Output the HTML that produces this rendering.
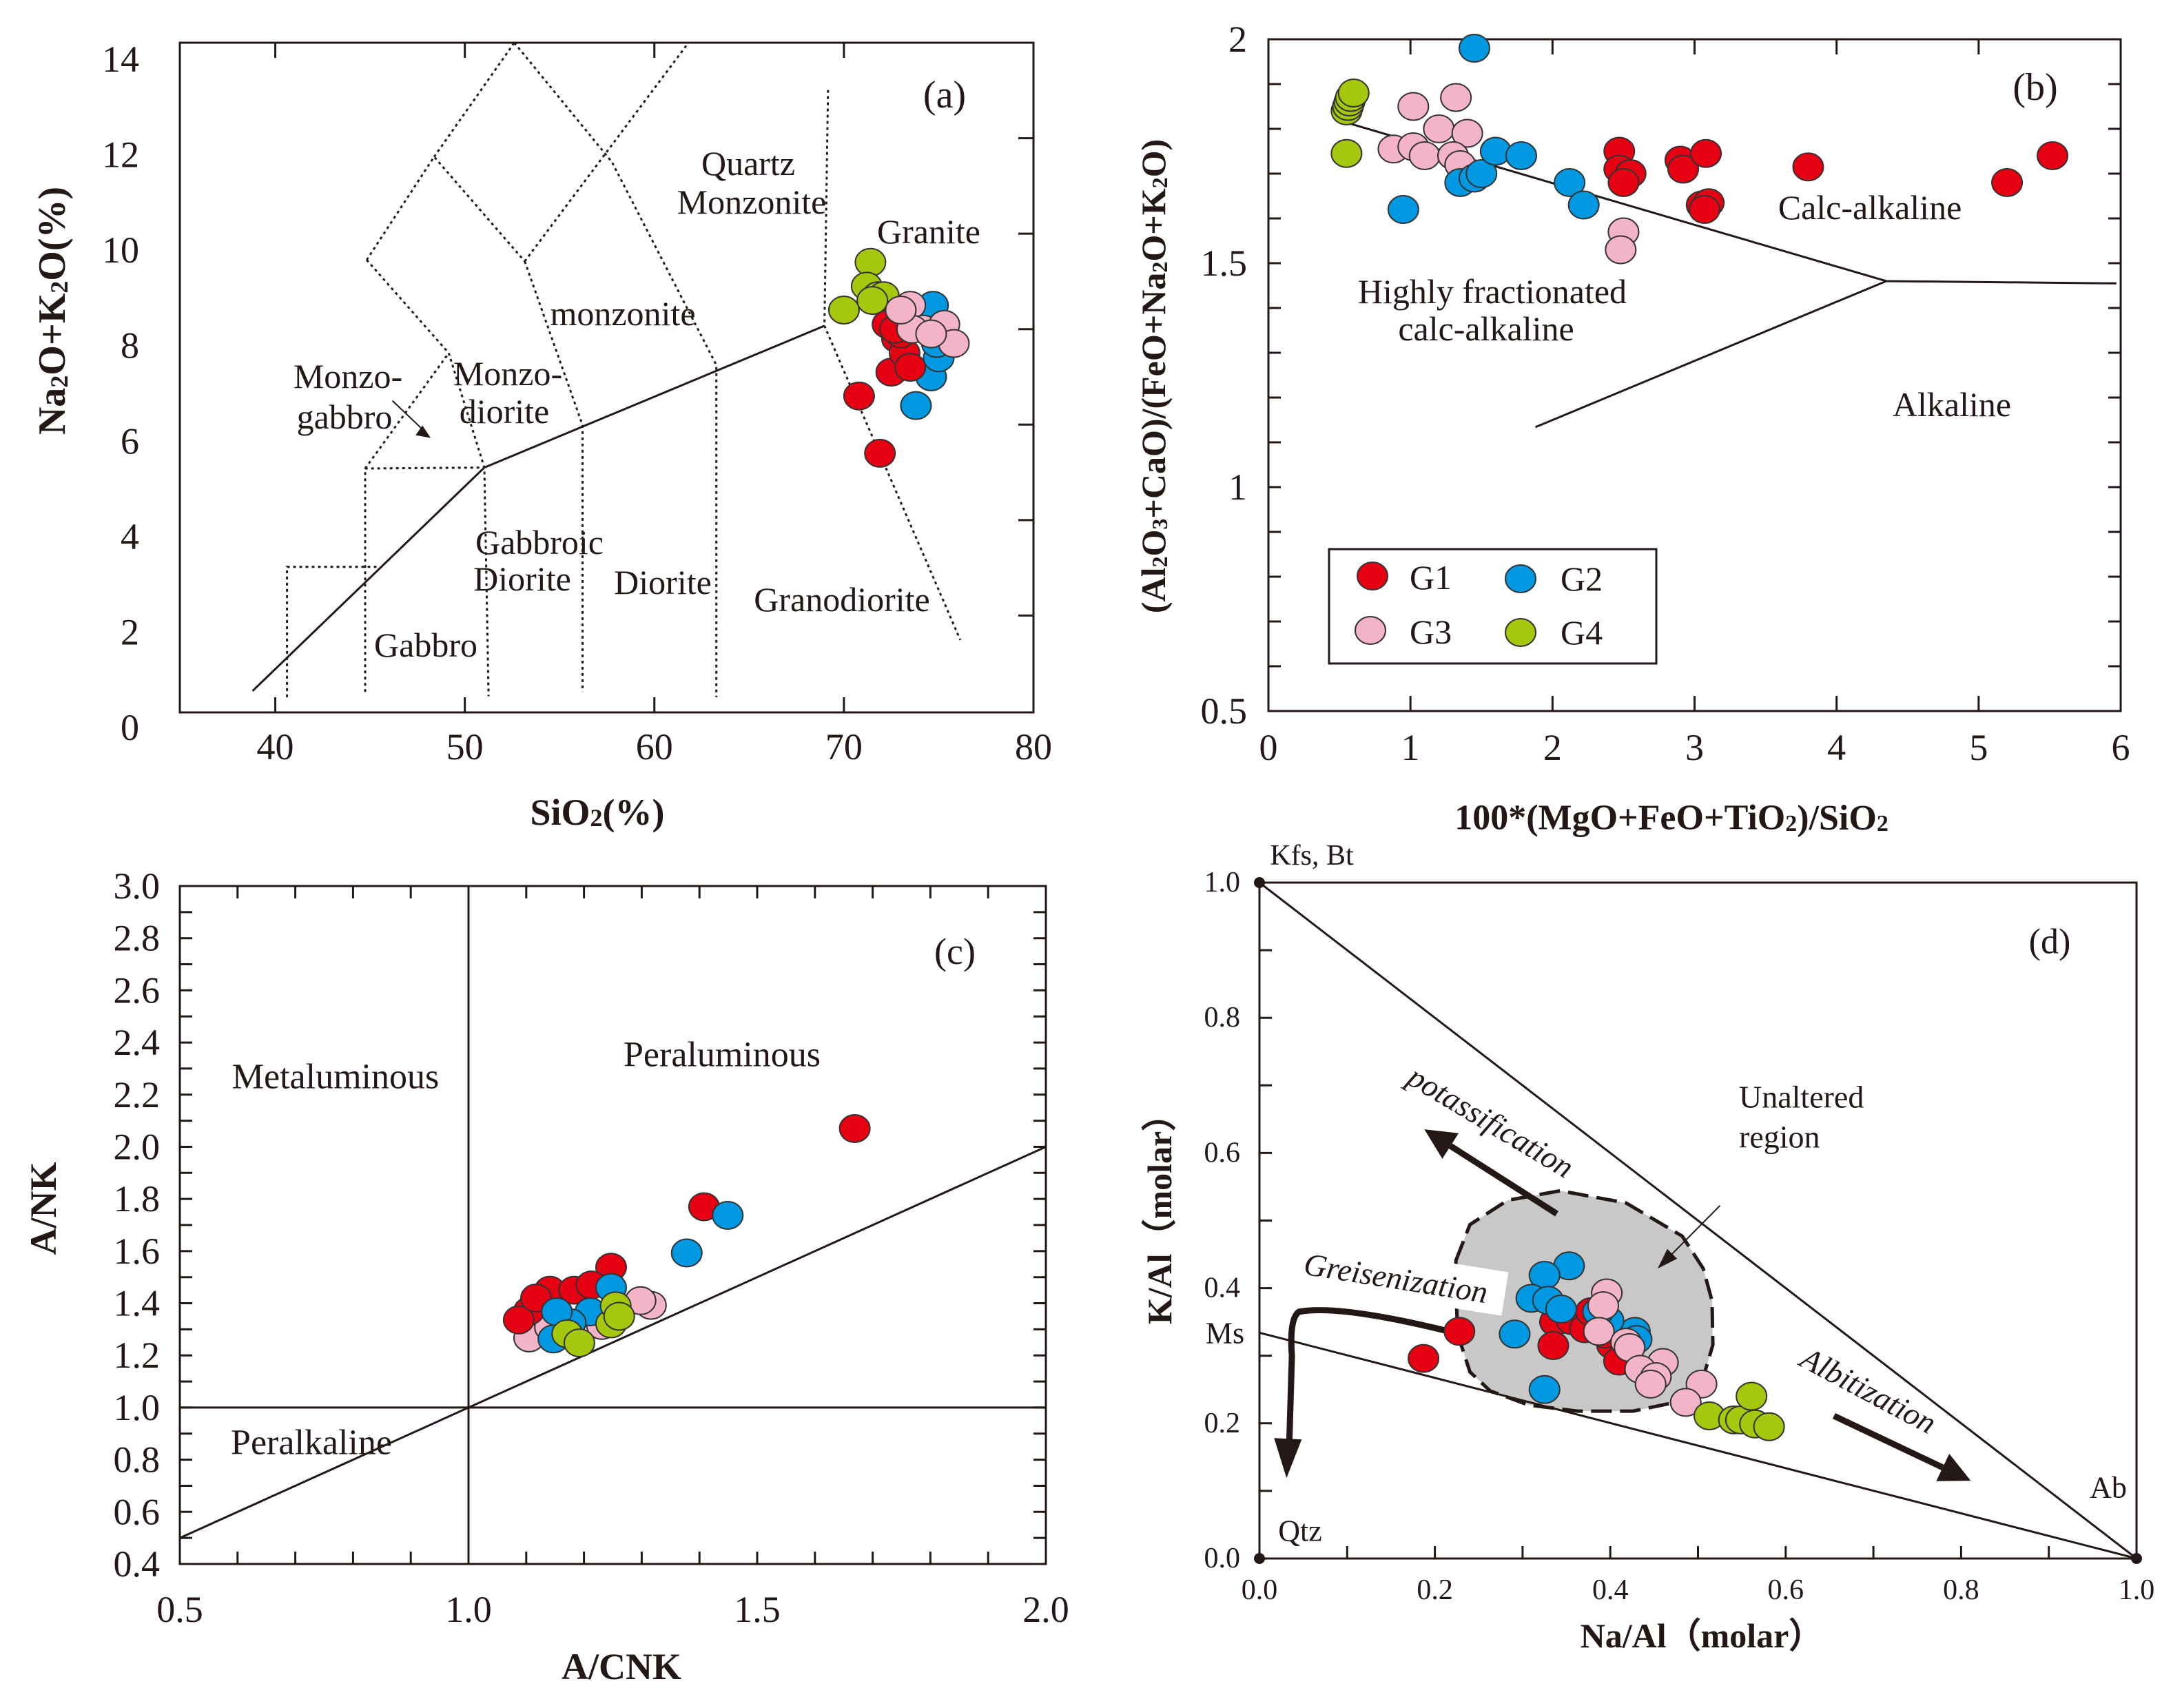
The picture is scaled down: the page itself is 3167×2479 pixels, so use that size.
<!DOCTYPE html>
<html><head><meta charset="utf-8"><title>Geochemical discrimination diagrams</title>
<style>
html,body{margin:0;padding:0;background:#fff;}
svg{display:block;font-family:"Liberation Serif","DejaVu Serif",serif;}
text{font-family:"Liberation Serif","DejaVu Serif",serif;}
.t{font-size:50px;fill:#231815;}
.tk{font-size:54px;fill:#231815;}
.tkd{font-size:42px;fill:#231815;}
.ti{font-weight:bold;fill:#231815;}
</style></head>
<body>
<svg id="fig" width="3167" height="2479" viewBox="0 0 3167 2479" xmlns="http://www.w3.org/2000/svg">
<rect x="0" y="0" width="3167" height="2479" fill="#fff"/>
<g id="pa"></g>
<g id="pb"></g>
<g id="pc"></g>
<g id="pd"></g>

<!-- Panel a texts -->
<g text-anchor="middle" dominant-baseline="central" class="t">
<text x="1371" y="138" font-size="56">(a)</text>
<text x="1086" y="237">Quartz</text>
<text x="1091" y="293">Monzonite</text>
<text x="1348" y="336">Granite</text>
<text x="904" y="455">monzonite</text>
<text x="505" y="546">Monzo-</text>
<text x="500" y="605">gabbro</text>
<text x="737" y="542">Monzo-</text>
<text x="732" y="597">diorite</text>
<text x="783" y="787">Gabbroic</text>
<text x="758" y="840">Diorite</text>
<text x="962" y="845">Diorite</text>
<text x="1222" y="870">Granodiorite</text>
<text x="618" y="936">Gabbro</text>
</g>
<text class="ti" x="867" y="1179" font-size="54" text-anchor="middle" dominant-baseline="central">SiO<tspan font-size="36" dy="8">2</tspan><tspan dy="-8">(%)</tspan></text>
<text class="ti" transform="translate(76,451) rotate(-90)" font-size="56" text-anchor="middle" dominant-baseline="central">Na<tspan font-size="36" dy="10">2</tspan><tspan dy="-10">O+K</tspan><tspan font-size="36" dy="10">2</tspan><tspan dy="-10">O(%)</tspan></text>

<!-- Panel b texts -->
<g text-anchor="middle" dominant-baseline="central" class="t">
<text x="2954" y="127" font-size="56">(b)</text>
<text x="2714" y="301">Calc-alkaline</text>
<text x="2166" y="423">Highly fractionated</text>
<text x="2157" y="477">calc-alkaline</text>
<text x="2833" y="587">Alkaline</text>
</g>
<text class="ti" x="2426" y="1187" font-size="52" text-anchor="middle" dominant-baseline="central">100*(MgO+FeO+TiO<tspan font-size="34" dy="8">2</tspan><tspan dy="-8">)/SiO</tspan><tspan font-size="34" dy="8">2</tspan></text>
<text class="ti" transform="translate(1674,546) rotate(-90)" font-size="50" text-anchor="middle" dominant-baseline="central">(Al<tspan font-size="32" dy="9">2</tspan><tspan dy="-9">O</tspan><tspan font-size="32" dy="9">3</tspan><tspan dy="-9">+CaO)/(FeO+Na</tspan><tspan font-size="32" dy="9">2</tspan><tspan dy="-9">O+K</tspan><tspan font-size="32" dy="9">2</tspan><tspan dy="-9">O)</tspan></text>
<g>
<rect x="1929" y="797" width="475" height="166" fill="#fff" stroke="#231815" stroke-width="3"/>
<ellipse cx="1992" cy="836" rx="22" ry="20" fill="#e60012" stroke="#333" stroke-width="2"/>
<text x="2046" y="838" class="t" dominant-baseline="central">G1</text>
<ellipse cx="2207" cy="840" rx="22" ry="20" fill="#0098e0" stroke="#333" stroke-width="2"/>
<text x="2265" y="840" class="t" dominant-baseline="central">G2</text>
<ellipse cx="1989" cy="915" rx="22" ry="20" fill="#f4b4c8" stroke="#333" stroke-width="2"/>
<text x="2046" y="917" class="t" dominant-baseline="central">G3</text>
<ellipse cx="2207" cy="918" rx="22" ry="20" fill="#a5c80e" stroke="#333" stroke-width="2"/>
<text x="2265" y="918" class="t" dominant-baseline="central">G4</text>
</g>

<!-- Panel c texts -->
<g text-anchor="middle" dominant-baseline="central" class="t">
<text x="1386" y="1381" font-size="54">(c)</text>
<text x="1048" y="1531" font-size="52">Peraluminous</text>
<text x="487" y="1563" font-size="52">Metaluminous</text>
<text x="452" y="2094" font-size="52">Peralkaline</text>
</g>
<text class="ti" x="902" y="2419" font-size="54" text-anchor="middle" dominant-baseline="central">A/CNK</text>
<text class="ti" transform="translate(63,1754) rotate(-90)" font-size="54" text-anchor="middle" dominant-baseline="central">A/NK</text>

<!-- Panel d texts -->
<g dominant-baseline="central" class="t">
<text x="1904" y="1242" font-size="42" text-anchor="middle">Kfs, Bt</text>
<text x="2975" y="1367" font-size="52" text-anchor="middle">(d)</text>
<text x="2524" y="1592" font-size="46">Unaltered</text>
<text x="2524" y="1650" font-size="46">region</text>
<text x="1778" y="1935" font-size="44" text-anchor="middle">Ms</text>
<text x="1887" y="2222" font-size="44" text-anchor="middle">Qtz</text>
<text x="3060" y="2159" font-size="44" text-anchor="middle">Ab</text>
<text transform="translate(2164,1628) rotate(31)" font-size="46" font-style="italic" text-anchor="middle">potassification</text>
<g transform="translate(2026,1855) rotate(9)">
<rect x="-160" y="-34" width="320" height="64" fill="#fff"/>
<text x="0" y="0" font-size="46" font-style="italic" text-anchor="middle">Greisenization</text>
</g>
<text transform="translate(2712,2018) rotate(28)" font-size="46" font-style="italic" text-anchor="middle">Albitization</text>
</g>
<text class="ti" x="2470" y="2374" font-size="50" text-anchor="middle" dominant-baseline="central">Na/Al（molar）</text>
<text class="ti" transform="translate(1683,1757) rotate(-90)" font-size="50" text-anchor="middle" dominant-baseline="central">K/Al（molar）</text>
</svg>

<script>
// ---------- data ----------
// Panel a: SiO2 vs Na2O+K2O
const aG1 = [[70.8,6.6],[71.9,5.4],[72.5,7.1],[72.3,8.1],[72.8,7.8],[73.2,7.5],[73.5,7.2],[73.0,7.9],[72.7,8.0]];
const aG2 = [[73.8,6.4],[74.6,7.0],[75.0,7.4],[74.7,8.5],[75.2,7.9],[74.9,7.7]];
const aG3 = [[73.5,8.5],[74.2,8.0],[75.3,8.1],[75.8,7.7],[73.6,8.0],[74.6,7.9],[73.0,8.4]];
const aG4 = [[71.4,9.4],[70.0,8.4],[71.2,8.9],[71.8,8.7],[72.1,8.7],[71.5,8.6]];
const aXTicks = [40,50,60,70,80];
const aYTicks = [0,2,4,6,8,10,12,14];
const aSolid = [[38.8,0.42],[51.03,5.10],[68.97,8.07]];
const aDotted = [
 [[40.62,0.29],[40.62,3.02],[45.44,3.02]],
 [[44.74,0.40],[44.74,5.08],[51.03,5.10]],
 [[44.74,5.08],[49.15,7.50]],
 [[49.15,7.50],[51.03,5.10],[51.25,0.31]],
 [[44.82,9.45],[49.15,7.50]],
 [[44.82,9.45],[48.38,11.61],[53.16,9.42]],
 [[48.38,11.61],[52.61,14.0]],
 [[53.16,9.42],[61.80,14.0]],
 [[53.16,9.42],[56.21,5.99],[56.21,0.40]],
 [[52.61,14.0],[57.76,11.5],[63.27,7.25],[63.27,0.29]],
 [[69.16,13.01],[68.97,8.07],[76.14,1.49]]
];
// Panel b
const bG1 = [[2.47,1.75],[2.47,1.71],[2.55,1.70],[2.5,1.68],[2.9,1.73],[2.92,1.71],[3.08,1.745],[3.05,1.63],[3.1,1.635],[3.07,1.62],[3.8,1.715],[5.2,1.68],[5.52,1.74]];
const bG2 = [[1.45,1.98],[0.95,1.62],[1.35,1.68],[1.45,1.69],[1.5,1.70],[1.6,1.75],[1.78,1.74],[2.12,1.68],[2.22,1.63]];
const bG3 = [[1.02,1.85],[1.32,1.87],[1.2,1.80],[1.4,1.79],[0.88,1.755],[1.02,1.76],[1.1,1.74],[1.3,1.74],[1.35,1.72],[2.5,1.57],[2.48,1.53]];
const bG4 = [[0.55,1.84],[0.56,1.85],[0.57,1.86],[0.58,1.87],[0.6,1.88],[0.55,1.745]];
const bXTicks = [0,1,2,3,4,5,6];
const bYTicks = [0.5,1,1.5,2];
const bLines = [[[0.56,1.813],[4.35,1.46],[5.97,1.455]],[[1.88,1.134],[4.35,1.46]]];
// Panel c
const cG1 = [[1.669,2.07],[1.408,1.77],[1.247,1.538],[1.105,1.371],[1.147,1.40],[1.141,1.45],[1.183,1.45],[1.213,1.47],[1.087,1.336],[1.117,1.42]];
const cG2 = [[1.449,1.737],[1.378,1.593],[1.247,1.46],[1.211,1.367],[1.147,1.263],[1.177,1.325],[1.153,1.367]];
const cG3 = [[1.105,1.267],[1.316,1.392],[1.298,1.41],[1.141,1.308],[1.231,1.315]];
const cG4 = [[1.171,1.283],[1.192,1.248],[1.247,1.321],[1.255,1.39],[1.261,1.35]];
const cXTicks = [0.5,1.0,1.5,2.0];
const cYTicks = [0.4,0.6,0.8,1.0,1.2,1.4,1.6,1.8,2.0,2.2,2.4,2.6,2.8,3.0];
// Panel d
const dG1 = [[0.187,0.296],[0.228,0.336],[0.337,0.350],[0.335,0.315],[0.356,0.352],[0.371,0.340],[0.402,0.316],[0.410,0.292],[0.394,0.332],[0.378,0.365]];
const dG2 = [[0.353,0.433],[0.325,0.419],[0.310,0.385],[0.329,0.382],[0.344,0.369],[0.291,0.332],[0.325,0.250],[0.428,0.336],[0.430,0.324],[0.398,0.352],[0.386,0.365]];
const dG3 = [[0.396,0.393],[0.392,0.374],[0.387,0.336],[0.418,0.320],[0.422,0.312],[0.460,0.290],[0.434,0.280],[0.452,0.269],[0.446,0.258],[0.504,0.258],[0.486,0.231]];
const dG4 = [[0.513,0.211],[0.541,0.205],[0.549,0.205],[0.561,0.240],[0.565,0.199],[0.581,0.195]];
const dTicks = [0.0,0.2,0.4,0.6,0.8,1.0];
const dRegion = [[0.224,0.441],[0.240,0.494],[0.283,0.530],[0.343,0.544],[0.418,0.526],[0.482,0.477],[0.506,0.429],[0.516,0.381],[0.517,0.316],[0.506,0.268],[0.474,0.231],[0.426,0.218],[0.363,0.218],[0.307,0.227],[0.263,0.248],[0.240,0.276],[0.226,0.332],[0.224,0.397]];
const dMsY = [0.334];
const dGreisen = [[0.216,0.336],[0.09,0.368],[0.045,0.365],[0.037,0.30],[0.034,0.17]];

// ---------- helpers ----------
const NS = "http://www.w3.org/2000/svg";
const COL = {G1:"#e60012",G2:"#0098e0",G3:"#f4b4c8",G4:"#a5c80e"};
function el(parent, tag, attrs){const e=document.createElementNS(NS,tag);for(const k in attrs)e.setAttribute(k,attrs[k]);parent.appendChild(e);return e;}
function sx(p,v){return p.px0+(v-p.xmin)/(p.xmax-p.xmin)*(p.px1-p.px0);}
function sy(p,v){return p.py0+(v-p.ymin)/(p.ymax-p.ymin)*(p.py1-p.py0);}
function path(p,pts){return pts.map((q,i)=>(i?"L":"M")+sx(p,q[0]).toFixed(1)+","+sy(p,q[1]).toFixed(1)).join(" ");}
function drawLine(p,g,pts,name,dash,w){
  const e=el(g,"path",{d:path(p,pts),fill:"none",stroke:"#231815","stroke-width":w||3});
  if(dash)e.setAttribute("stroke-dasharray",dash);
  
  
  return e;
}
function drawPoints(p,g,arr,grp,prefix){
  arr.forEach((q,i)=>{
    const e=el(g,"ellipse",{cx:sx(p,q[0]),cy:sy(p,q[1]),rx:22,ry:20,fill:COL[grp],stroke:"#333","stroke-width":2});
    
    
  });
}
function box(p,g,name){
  const e=el(g,"rect",{x:p.px0,y:Math.min(p.py0,p.py1),width:p.px1-p.px0,height:Math.abs(p.py1-p.py0),fill:"none",stroke:"#231815","stroke-width":3});
  
  
}
function tick(g,x1,y1,x2,y2,name){
  const e=el(g,"line",{x1:x1,y1:y1,x2:x2,y2:y2,stroke:"#231815","stroke-width":3});
  
  
}
function label(g,x,y,txt,anchor,cls,name){
  const e=el(g,"text",{x:x,y:y,"text-anchor":anchor,"dominant-baseline":"central",class:cls});
  e.textContent=txt;
  
  
}

// ---------- panel a ----------
(function(){
  const p={xmin:35,xmax:80,ymin:0,ymax:14,px0:262,px1:1500,py0:1032,py1:62};
  const g=document.getElementById("pa");
  const b=el(g,"rect",{x:261,y:62,width:1239,height:972,fill:"none",stroke:"#231815","stroke-width":3});
  
  
  aXTicks.forEach(v=>{
    const x=sx(p,v);
    if(v<80){tick(g,x,1034,x,1012,"x-tick-a");tick(g,x,62,x,84,"x-tick-top-a");}
    label(g,x,1084,String(v),"middle","tk","x-tick-label-a");
  });
  aYTicks.forEach(v=>{
    const y=sy(p,v);
    if(v>0&&v<14)tick(g,1500,y,1478,y,"y-tick-a");
    label(g,202,y+24,String(v),"end","tk","y-tick-label-a");
  });
  aDotted.forEach((l,i)=>drawLine(p,g,l,"boundary-dotted-"+(i+1),"4 5",3));
  drawLine(p,g,aSolid,"alkaline-subalkaline-line",null,3);
  drawLine(p,g,[[46.18,6.50],[47.9,5.85]],"monzo-gabbro-pointer",null,2);
  const ah=el(g,"path",{d:"M"+sx(p,48.2)+","+sy(p,5.72)+" l-22,-4 l10,-14 z",fill:"#231815"});
  
  
  drawPoints(p,g,aG4,"G4","a");drawPoints(p,g,aG2,"G2","a");drawPoints(p,g,aG1,"G1","a");drawPoints(p,g,aG3,"G3","a");
})();

// ---------- panel b ----------
(function(){
  const p={xmin:0,xmax:6,ymin:0.5,ymax:2,px0:1841,px1:3078,py0:1032,py1:57};
  const g=document.getElementById("pb");
  box(p,g,"plot-frame-b");
  bXTicks.forEach(v=>{
    const x=sx(p,v);
    if(v>0&&v<6){tick(g,x,1032,x,1010,"x-tick-b");tick(g,x,57,x,79,"x-tick-top-b");}
    label(g,x,1085,String(v),"middle","tk","x-tick-label-b");
  });
  for(let k=6;k<20;k++){const y=sy(p,k/10);tick(g,1841,y,1859,y,"y-minor-tick-b");tick(g,3078,y,3060,y,"y-minor-tick-right-b");}
  bYTicks.forEach(v=>{label(g,1810,sy(p,v),String(v),"end","tk","y-tick-label-b");});
  bLines.forEach((l,i)=>drawLine(p,g,l,"series-boundary-b-"+(i+1),null,3));
  drawPoints(p,g,bG4,"G4","b");drawPoints(p,g,bG3,"G3","b");drawPoints(p,g,bG2,"G2","b");drawPoints(p,g,bG1,"G1","b");
})();

// ---------- panel c ----------
(function(){
  const p={xmin:0.5,xmax:2.0,ymin:0.4,ymax:3.0,px0:261,px1:1518,py0:2270,py1:1286};
  const g=document.getElementById("pc");
  box(p,g,"plot-frame-c");
  for(let k=6;k<20;k++){const x=sx(p,k/10);tick(g,x,2270,x,2252,"x-minor-tick-c");tick(g,x,1286,x,1304,"x-minor-tick-top-c");}
  for(let k=5;k<30;k++){const y=sy(p,k/10);tick(g,261,y,279,y,"y-minor-tick-c");tick(g,1518,y,1500,y,"y-minor-tick-right-c");}
  cXTicks.forEach(v=>label(g,sx(p,v),2336,v.toFixed(1),"middle","tk","x-tick-label-c"));
  cYTicks.forEach(v=>label(g,232,sy(p,v),v.toFixed(1),"end","tk","y-tick-label-c"));
  drawLine(p,g,[[1.0,0.4],[1.0,3.0]],"acnk-1-line",null,3);
  drawLine(p,g,[[0.5,1.0],[2.0,1.0]],"ank-1-line",null,3);
  drawLine(p,g,[[0.5,0.5],[2.0,2.0]],"peraluminous-boundary",null,3);
  drawPoints(p,g,cG3,"G3","c");drawPoints(p,g,cG1,"G1","c");drawPoints(p,g,cG2,"G2","c");drawPoints(p,g,cG4,"G4","c");
})();

// ---------- panel d ----------
(function(){
  const p={xmin:0,xmax:1,ymin:0,ymax:1,px0:1828,px1:3101,py0:2262,py1:1281};
  const g=document.getElementById("pd");
  box(p,g,"plot-frame-d");
  for(let k=1;k<10;k++){const x=sx(p,k/10);tick(g,x,2262,x,2244,"x-tick-d");const y=sy(p,k/10);tick(g,1828,y,1846,y,"y-tick-d");}
  dTicks.forEach(v=>{label(g,sx(p,v),2308,v.toFixed(1),"middle","tkd","x-tick-label-d");label(g,1800,sy(p,v),v.toFixed(1),"end","tkd","y-tick-label-d");});
  const reg=el(g,"path",{d:path(p,dRegion)+" Z",fill:"#c8c8c8",stroke:"#231815","stroke-width":5,"stroke-dasharray":"30 12"});
  
  
  drawLine(p,g,[[0,1],[1,0]],"kfs-ab-line",null,3);
  drawLine(p,g,[[0,dMsY[0]],[1,0]],"ms-ab-line",null,3);
  [[0,1],[0,0],[1,0]].forEach((q,i)=>{
    const c=el(g,"circle",{cx:sx(p,q[0]),cy:sy(p,q[1]),r:8,fill:"#231815"});
    
    
  });
  function arrow(a,b,w,hl,hw,name){
    const x1=sx(p,a[0]),y1=sy(p,a[1]),x2=sx(p,b[0]),y2=sy(p,b[1]);
    const dx=x2-x1,dy=y2-y1,L=Math.hypot(dx,dy),ux=dx/L,uy=dy/L;
    const bx=x2-ux*hl,by=y2-uy*hl;
    const ln=el(g,"line",{x1:x1,y1:y1,x2:bx,y2:by,stroke:"#231815","stroke-width":w});
    
    
    const hd=el(g,"path",{d:`M${x2},${y2} L${bx-uy*hw},${by+ux*hw} L${bx+uy*hw},${by-ux*hw} Z`,fill:"#231815"});
    
    
  }
  arrow([0.339,0.510],[0.188,0.635],9,45,22,"potassification-arrow");
  arrow([0.655,0.211],[0.811,0.115],9,45,22,"albitization-arrow");
  arrow([0.525,0.522],[0.454,0.429],2,30,10,"unaltered-pointer");
  const q=dGreisen.map(v=>[sx(p,v[0]),sy(p,v[1])]);
  const gp=el(g,"path",{d:`M${q[0][0]},${q[0][1]} Q${q[1][0]},${q[1][1]-8} ${q[2][0]},${q[2][1]} Q${q[3][0]-4},${q[2][1]+10} ${q[3][0]},${q[3][1]} L${q[4][0]},${q[4][1]}`,fill:"none",stroke:"#231815","stroke-width":9,"stroke-linejoin":"round"});
  
  
  const hx=q[4][0],hy=q[4][1];
  const gh=el(g,"path",{d:`M${hx-4},${hy+50} L${hx-22},${hy-8} L${hx+18},${hy-6} Z`,fill:"#231815"});
  
  
  drawPoints(p,g,dG1,"G1","d");drawPoints(p,g,dG2,"G2","d");drawPoints(p,g,dG3,"G3","d");drawPoints(p,g,dG4,"G4","d");
})();
</script>
</body></html>
